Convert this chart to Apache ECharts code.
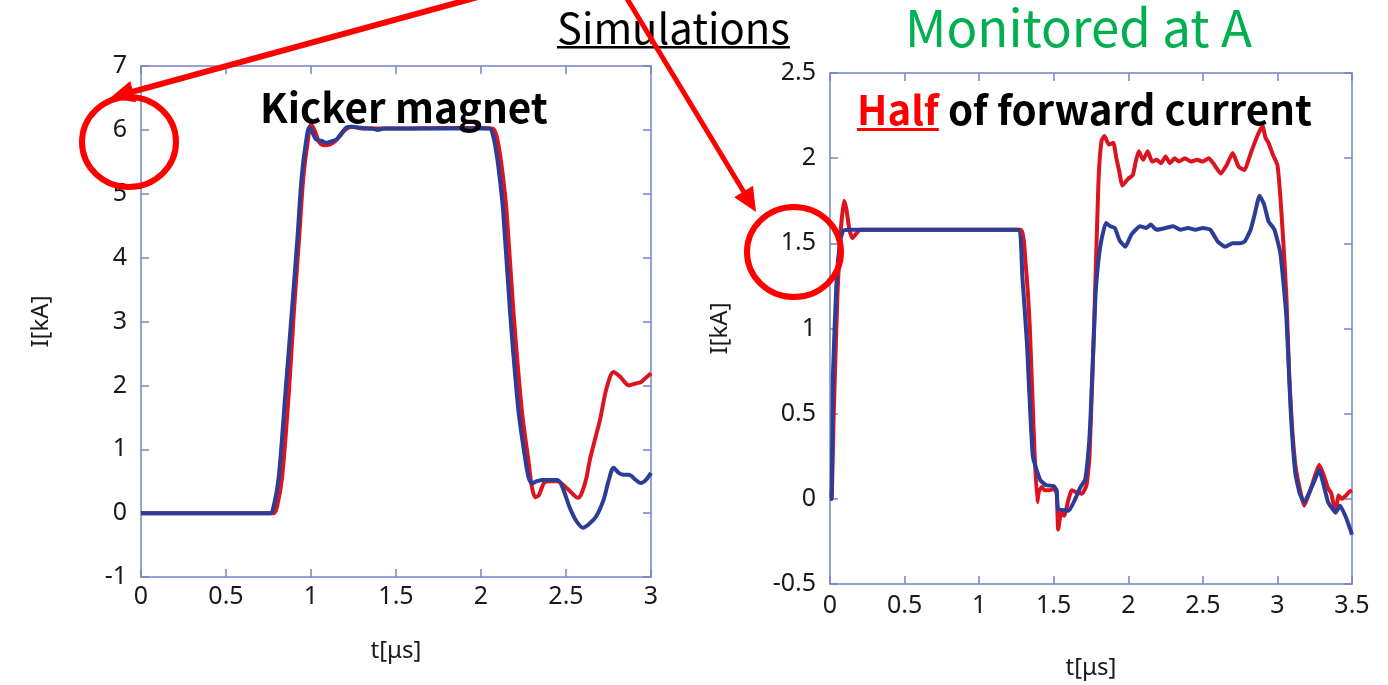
<!DOCTYPE html>
<html>
<head>
<meta charset="utf-8">
<script src="https://cdn.jsdelivr.net/npm/echarts@6/dist/echarts.min.js"></script>
<style>
html,body{margin:0;padding:0;background:#fff;}
#chart{width:1388px;height:685px;}
</style>
</head>
<body>
<div id="chart"></div>
<script>
// ---------- Data ----------
// Left panel: Kicker magnet (t in µs, I in kA)
var kickerRedT = [0, 0.78, 0.80, 0.83, 0.87, 0.90, 0.93, 0.955, 0.98, 1.00, 1.02, 1.05, 1.08, 1.11, 1.14, 1.17, 1.20, 1.24, 1.30, 1.50, 1.80, 2.00, 2.07, 2.09, 2.11, 2.13, 2.15, 2.19, 2.24, 2.28, 2.30, 2.32, 2.34, 2.37, 2.40, 2.45, 2.50, 2.54, 2.57, 2.59, 2.62, 2.64, 2.67, 2.70, 2.74, 2.78, 2.82, 2.87, 2.91, 2.94, 2.97, 3.00];
var kickerRedI = [0, 0, 0.1, 0.56, 1.9, 3.18, 4.3, 5.26, 5.8, 6.08, 6.0, 5.8, 5.76, 5.77, 5.82, 5.9, 6.0, 6.05, 6.02, 6.02, 6.03, 6.03, 6.02, 5.92, 5.65, 5.25, 4.74, 3.18, 1.61, 0.8, 0.4, 0.25, 0.28, 0.47, 0.5, 0.5, 0.4, 0.3, 0.24, 0.3, 0.55, 0.83, 1.15, 1.46, 1.97, 2.21, 2.13, 2.0, 2.03, 2.05, 2.12, 2.19];
var kickerBlueT = [0, 0.76, 0.78, 0.81, 0.85, 0.888, 0.92, 0.945, 0.97, 0.99, 1.01, 1.03, 1.06, 1.09, 1.12, 1.15, 1.18, 1.21, 1.24, 1.30, 1.36, 1.39, 1.43, 1.60, 1.80, 2.00, 2.05, 2.07, 2.09, 2.11, 2.13, 2.17, 2.22, 2.26, 2.28, 2.30, 2.33, 2.36, 2.45, 2.48, 2.52, 2.56, 2.60, 2.64, 2.68, 2.72, 2.75, 2.78, 2.81, 2.84, 2.87, 2.91, 2.94, 2.97, 3.00];
var kickerBlueI = [0, 0, 0.1, 0.56, 1.9, 3.18, 4.3, 5.26, 5.8, 6.04, 5.95, 5.85, 5.83, 5.8, 5.82, 5.85, 5.95, 6.04, 6.05, 6.03, 6.02, 6.0, 6.02, 6.02, 6.02, 6.02, 6.02, 5.92, 5.65, 5.25, 4.74, 3.18, 1.61, 0.85, 0.56, 0.47, 0.5, 0.52, 0.52, 0.4, 0.1, -0.12, -0.23, -0.16, -0.04, 0.2, 0.5, 0.71, 0.63, 0.6, 0.6, 0.52, 0.47, 0.52, 0.63];

// Right panel: Half of forward current, monitored at A
var halfRedT = [0, 0.01, 0.025, 0.05, 0.07, 0.094, 0.11, 0.13, 0.15, 0.17, 0.20, 0.25, 1.00, 1.28, 1.31, 1.34, 1.37, 1.39, 1.40, 1.42, 1.44, 1.47, 1.50, 1.52, 1.53, 1.55, 1.57, 1.60, 1.62, 1.65, 1.69, 1.72, 1.74, 1.77, 1.80, 1.82, 1.84, 1.87, 1.90, 1.92, 1.94, 1.96, 2.00, 2.03, 2.05, 2.07, 2.10, 2.13, 2.16, 2.19, 2.22, 2.25, 2.28, 2.31, 2.34, 2.38, 2.42, 2.46, 2.50, 2.54, 2.57, 2.62, 2.66, 2.70, 2.74, 2.78, 2.81, 2.83, 2.87, 2.90, 2.92, 2.94, 2.97, 3.00, 3.02, 3.04, 3.06, 3.08, 3.10, 3.12, 3.14, 3.18, 3.22, 3.25, 3.28, 3.31, 3.34, 3.36, 3.39, 3.41, 3.43, 3.46, 3.48, 3.50];
var halfRedI = [0, 0, 0.5, 1.2, 1.55, 1.75, 1.7, 1.58, 1.53, 1.55, 1.58, 1.58, 1.58, 1.58, 1.4, 1.0, 0.3, -0.02, 0.04, 0.07, 0.05, 0.05, 0.06, 0.03, -0.18, -0.08, -0.1, 0.0, 0.05, 0.04, 0.03, 0.08, 0.25, 1.0, 1.86, 2.1, 2.13, 2.08, 2.09, 2.0, 1.92, 1.84, 1.88, 1.9, 1.98, 2.04, 1.99, 2.04, 1.98, 1.99, 1.97, 2.01, 1.97, 2.0, 1.98, 2.0, 1.98, 1.99, 1.98, 2.0, 1.97, 1.91, 1.96, 2.03, 1.95, 1.93, 2.0, 2.05, 2.14, 2.19, 2.12, 2.09, 2.02, 1.96, 1.77, 1.5, 1.19, 0.7, 0.4, 0.2, 0.1, -0.04, 0.05, 0.13, 0.2, 0.14, 0.06, 0.035, -0.08, 0.02, 0.0, 0.02, 0.04, 0.05];
var halfBlueT = [0, 0.01, 0.02, 0.045, 0.07, 0.09, 0.15, 0.50, 1.00, 1.26, 1.29, 1.32, 1.36, 1.41, 1.45, 1.50, 1.52, 1.53, 1.60, 1.645, 1.68, 1.71, 1.73, 1.745, 1.78, 1.80, 1.82, 1.85, 1.88, 1.91, 1.94, 1.98, 2.02, 2.05, 2.08, 2.12, 2.15, 2.19, 2.25, 2.30, 2.35, 2.40, 2.45, 2.50, 2.55, 2.60, 2.65, 2.70, 2.75, 2.78, 2.82, 2.85, 2.88, 2.91, 2.94, 2.98, 3.02, 3.06, 3.09, 3.12, 3.15, 3.18, 3.22, 3.25, 3.28, 3.31, 3.34, 3.37, 3.39, 3.42, 3.46, 3.50];
var halfBlueI = [0, 0, 0.73, 1.3, 1.52, 1.575, 1.58, 1.58, 1.58, 1.58, 1.3, 0.92, 0.25, 0.11, 0.08, 0.075, 0.05, -0.06, -0.07, 0.0, 0.07, 0.11, 0.25, 0.44, 1.19, 1.4, 1.52, 1.62, 1.6, 1.59, 1.52, 1.48, 1.55, 1.58, 1.6, 1.59, 1.61, 1.58, 1.59, 1.6, 1.58, 1.59, 1.58, 1.59, 1.58, 1.51, 1.48, 1.5, 1.5, 1.51, 1.58, 1.68, 1.78, 1.73, 1.63, 1.58, 1.44, 1.07, 0.5, 0.15, 0.03, -0.02, 0.05, 0.11, 0.17, 0.08, -0.02, -0.06, -0.08, -0.04, -0.11, -0.21];

// Axis ticks
var kickerXTicks = [0, 0.5, 1, 1.5, 2, 2.5, 3];
var kickerYTicks = [-1, 0, 1, 2, 3, 4, 5, 6, 7];
var halfXTicks = [0, 0.5, 1, 1.5, 2, 2.5, 3, 3.5];
var halfYTicks = [-0.5, 0, 0.5, 1, 1.5, 2, 2.5];

// Texts
var titleSim = 'Simulations';
var titleMon = 'Monitored at A';
var titleKicker = 'Kicker magnet';
var titleHalfA = 'Half';
var titleHalfB = ' of forward current';
var yName = 'I[kA]';
var xName = 't[\u03bcs]';

// ---------- Helpers ----------
function pairs(t, v) { return t.map(function (x, i) { return [x, v[i]]; }); }
var RED = '#dc1420', BLUE = '#2b3d97', AXIS = '#7584c4', TXT = '#1a1a1a';
var ctx = document.createElement('canvas').getContext('2d');
function measure(text, font) { ctx.font = font; return ctx.measureText(text).width; }
function fitSize(text, weight, family, targetW) {
  var w = measure(text, weight + ' 100px ' + family);
  return 100 * targetW / w;
}
var FAM = '"Noto Sans CJK JP", "Noto Sans", sans-serif';
var tickFont = { fontFamily: '"Noto Sans", sans-serif', fontSize: 25, color: TXT };

function makeX(gi, ticks, pos, show) {
  return {
    type: 'value', gridIndex: gi, position: pos,
    min: ticks[0], max: ticks[ticks.length - 1], interval: 0.5,
    axisLine: { show: true, onZero: false, lineStyle: { color: AXIS, width: 1.5 } },
    axisTick: { show: true, inside: true, length: 8, lineStyle: { color: AXIS, width: 1.5 } },
    axisLabel: show ? Object.assign({ show: true, margin: gi === 0 ? 7 : 9, formatter: function (v) { return String(v); } }, tickFont) : { show: false },
    splitLine: { show: false },
    name: show ? xName : '', nameLocation: 'middle', nameGap: gi === 0 ? 62 : 72,
    nameTextStyle: { fontFamily: '"Noto Sans", sans-serif', fontSize: 24, color: TXT }
  };
}
function makeY(gi, ticks, interval, pos, show) {
  return {
    type: 'value', gridIndex: gi, position: pos,
    min: ticks[0], max: ticks[ticks.length - 1], interval: interval,
    axisLine: { show: true, onZero: false, lineStyle: { color: AXIS, width: 1.5 } },
    axisTick: { show: true, inside: true, length: 8, lineStyle: { color: AXIS, width: 1.5 } },
    axisLabel: show ? Object.assign({ show: true, margin: 14, formatter: function (v) { return String(v); } }, tickFont) : { show: false },
    splitLine: { show: false },
    name: show ? yName : '', nameLocation: 'middle', nameGap: gi === 0 ? 88 : 98, nameRotate: 90,
    nameTextStyle: { fontFamily: '"Noto Sans", sans-serif', fontSize: 24, color: TXT }
  };
}
function line(name, data, color, xi, yi, smooth) {
  return {
    name: name, type: 'line', data: data, xAxisIndex: xi, yAxisIndex: yi,
    showSymbol: false, symbol: 'none', smooth: smooth, animation: false,
    lineStyle: { color: color, width: 4 }, z: 3
  };
}

// ---------- Annotation graphics ----------
function arrow(x1, y1, tx, ty, color, w, headL, headW) {
  var dx = tx - x1, dy = ty - y1, L = Math.sqrt(dx * dx + dy * dy);
  var ux = dx / L, uy = dy / L, px = -uy, py = ux;
  var bx = tx - ux * headL, by = ty - uy * headL;
  return [
    { type: 'line', shape: { x1: x1, y1: y1, x2: bx + ux * 2, y2: by + uy * 2 }, style: { stroke: color, lineWidth: w }, z: 100 },
    { type: 'polygon', shape: { points: [[tx, ty], [bx + px * headW, by + py * headW], [bx - px * headW, by - py * headW]] }, style: { fill: color }, z: 100 }
  ];
}
var graphics = [];
var simSize = fitSize(titleSim, 'normal', FAM, 233);
var simW = measure(titleSim, 'normal ' + simSize + 'px ' + FAM);
graphics.push({ type: 'text', x: 557, y: 28, style: { text: titleSim, font: 'normal ' + simSize + 'px ' + FAM, fill: '#000', textAlign: 'left', textVerticalAlign: 'middle', align: 'left', verticalAlign: 'middle' }, z: 100 });
graphics.push({ type: 'rect', shape: { x: 557, y: 46, width: simW, height: 2.5 }, style: { fill: '#000' }, z: 100 });
var monSize = fitSize(titleMon, 'normal', FAM, 347);
graphics.push({ type: 'text', x: 905, y: 28, style: { text: titleMon, font: 'normal ' + monSize + 'px ' + FAM, fill: '#00b050', textAlign: 'left', textVerticalAlign: 'middle', align: 'left', verticalAlign: 'middle' }, z: 100 });
var kickSize = fitSize(titleKicker, 'bold', FAM, 288);
graphics.push({ type: 'text', x: 260, y: 108, style: { text: titleKicker, font: 'bold ' + kickSize + 'px ' + FAM, fill: '#000', textAlign: 'left', textVerticalAlign: 'middle', align: 'left', verticalAlign: 'middle' }, z: 100 });
var halfSize = fitSize(titleHalfA + titleHalfB, 'bold', FAM, 455);
var halfFont = 'bold ' + halfSize + 'px ' + FAM;
var halfAW = measure(titleHalfA, halfFont);
graphics.push({ type: 'text', x: 857, y: 110, style: { text: titleHalfA, font: halfFont, fill: '#ff0000', textAlign: 'left', textVerticalAlign: 'middle', align: 'left', verticalAlign: 'middle' }, z: 100 });
graphics.push({ type: 'rect', shape: { x: 857, y: 128, width: halfAW, height: 3 }, style: { fill: '#ff0000' }, z: 100 });
graphics.push({ type: 'text', x: 857 + halfAW, y: 110, style: { text: titleHalfB, font: halfFont, fill: '#000', textAlign: 'left', textVerticalAlign: 'middle', align: 'left', verticalAlign: 'middle' }, z: 100 });
graphics = graphics.concat(arrow(478, -3, 110, 98, '#ff0000', 6, 24, 11));
graphics = graphics.concat(arrow(626, -3, 756, 212, '#ff0000', 5, 24, 11));
graphics.push({ type: 'ellipse', shape: { cx: 129, cy: 142, rx: 47, ry: 45 }, style: { fill: 'none', stroke: '#ff0000', lineWidth: 6 }, z: 100 });
graphics.push({ type: 'ellipse', shape: { cx: 794, cy: 252, rx: 47, ry: 45 }, style: { fill: 'none', stroke: '#ff0000', lineWidth: 6 }, z: 100 });

var chart = echarts.init(document.getElementById('chart'), null, { renderer: 'canvas' });
chart.setOption({
  backgroundColor: '#ffffff',
  animation: false,
  grid: [
    { left: 141, top: 66, width: 510, height: 511 },
    { left: 830, top: 73, width: 522, height: 520 }
  ],
  xAxis: [
    makeX(0, kickerXTicks, 'bottom', true),
    makeX(0, kickerXTicks, 'top', false),
    makeX(1, halfXTicks, 'bottom', true),
    makeX(1, halfXTicks, 'top', false)
  ],
  yAxis: [
    makeY(0, kickerYTicks, 1, 'left', true),
    makeY(0, kickerYTicks, 1, 'right', false),
    makeY(1, halfYTicks, 0.5, 'left', true),
    makeY(1, halfYTicks, 0.5, 'right', false)
  ],
  series: [
    line('Kicker red', pairs(kickerRedT, kickerRedI), RED, 0, 0, 0.3),
    line('Kicker blue', pairs(kickerBlueT, kickerBlueI), BLUE, 0, 0, 0.3),
    line('Half red', pairs(halfRedT, halfRedI), RED, 2, 2, 0.15),
    line('Half blue', pairs(halfBlueT, halfBlueI), BLUE, 2, 2, 0.15)
  ],
  graphic: graphics
});
</script>
</body>
</html>
